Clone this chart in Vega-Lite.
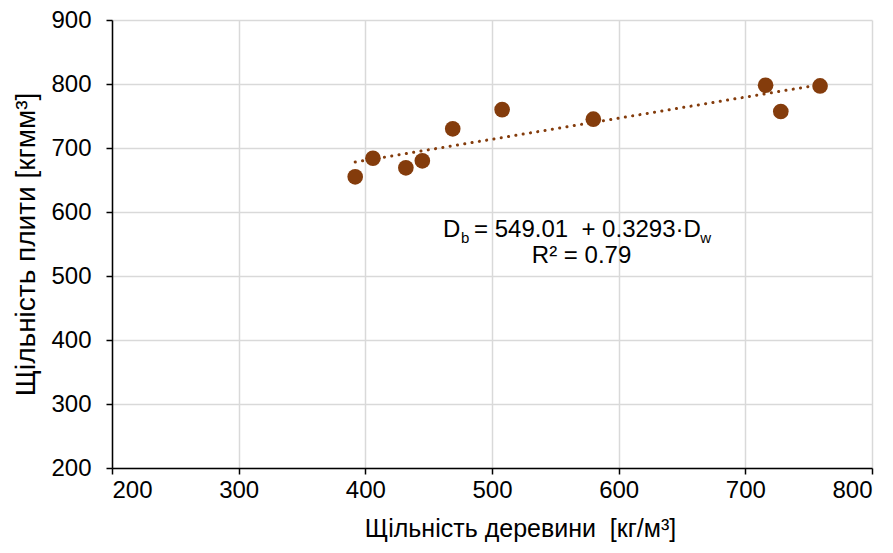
{
  "$schema": "https://vega.github.io/schema/vega-lite/v6.json",
  "width": 760,
  "height": 448,
  "autosize": "none",
  "padding": {"left": 112, "top": 20, "right": 21, "bottom": 85},
  "background": "white",
  "config": {
    "view": {"stroke": null},
    "font": "Liberation Sans",
    "axis": {
      "gridColor": "#d9d9d9",
      "gridWidth": 1.5,
      "domainColor": "#000000",
      "domainWidth": 1.5,
      "tickColor": "#000000",
      "tickWidth": 1.5,
      "tickSize": 6,
      "labelFont": "Liberation Sans",
      "labelFontSize": 24,
      "labelColor": "#000000",
      "titleFont": "Liberation Sans",
      "titleFontWeight": "normal",
      "titleColor": "#000000"
    }
  },
  "datasets": {
    "points": [
      {"wood": 392, "board": 655},
      {"wood": 406, "board": 684},
      {"wood": 432, "board": 669},
      {"wood": 445, "board": 680},
      {"wood": 469, "board": 730},
      {"wood": 508, "board": 760},
      {"wood": 580, "board": 745},
      {"wood": 716, "board": 798},
      {"wood": 728, "board": 757},
      {"wood": 759, "board": 797}
    ],
    "trend": [
      {"wood": 392, "board": 678.1},
      {"wood": 760, "board": 799.3}
    ],
    "eqMain": [
      {"x": 461.3, "y": 561, "t": "D"},
      {"x": 485.8, "y": 561, "t": "= 549.01\u00a0 + 0.3293·D"}
    ],
    "eqSub": [
      {"x": 475.5, "y": 551.6, "t": "b"},
      {"x": 664.5, "y": 551.6, "t": "w"}
    ],
    "eqR2": [
      {"x": 570.7, "y": 520.3, "t": "R² = 0.79"}
    ]
  },
  "layer": [
    {
      "data": {"name": "trend"},
      "mark": {"type": "line", "color": "#843C0C", "strokeWidth": 3, "strokeDash": [0.1, 7.3], "strokeCap": "round"},
      "encoding": {
        "x": {
          "field": "wood", "type": "quantitative",
          "scale": {"domain": [200, 800], "nice": false, "zero": false},
          "axis": {"values": [200, 300, 400, 500, 600, 700, 800], "labelPadding": 4, "title": "Щільність деревини\u00a0 [кг/м³]", "titleFontSize": 25, "titlePadding": 14, "titleX": 408}
        },
        "y": {
          "field": "board", "type": "quantitative",
          "scale": {"domain": [200, 900], "nice": false, "zero": false},
          "axis": {"values": [200, 300, 400, 500, 600, 700, 800, 900], "labelPadding": 15, "title": "Щільність плити [кгмм³]", "titleFontSize": 28, "titlePadding": 10}
        }
      }
    },
    {
      "data": {"name": "points"},
      "mark": {"type": "circle", "color": "#843C0C", "opacity": 1, "size": 245},
      "encoding": {
        "x": {"field": "wood", "type": "quantitative"},
        "y": {"field": "board", "type": "quantitative"}
      }
    },
    {
      "data": {"name": "eqMain"},
      "mark": {"type": "text", "align": "left", "baseline": "alphabetic", "fontSize": 24, "color": "#000000", "font": "Liberation Sans"},
      "encoding": {
        "x": {"field": "x", "type": "quantitative"},
        "y": {"field": "y", "type": "quantitative"},
        "text": {"field": "t"}
      }
    },
    {
      "data": {"name": "eqSub"},
      "mark": {"type": "text", "align": "left", "baseline": "alphabetic", "fontSize": 15, "color": "#000000", "font": "Liberation Sans"},
      "encoding": {
        "x": {"field": "x", "type": "quantitative"},
        "y": {"field": "y", "type": "quantitative"},
        "text": {"field": "t"}
      }
    },
    {
      "data": {"name": "eqR2"},
      "mark": {"type": "text", "align": "center", "baseline": "alphabetic", "fontSize": 24, "color": "#000000", "font": "Liberation Sans"},
      "encoding": {
        "x": {"field": "x", "type": "quantitative"},
        "y": {"field": "y", "type": "quantitative"},
        "text": {"field": "t"}
      }
    }
  ]
}
